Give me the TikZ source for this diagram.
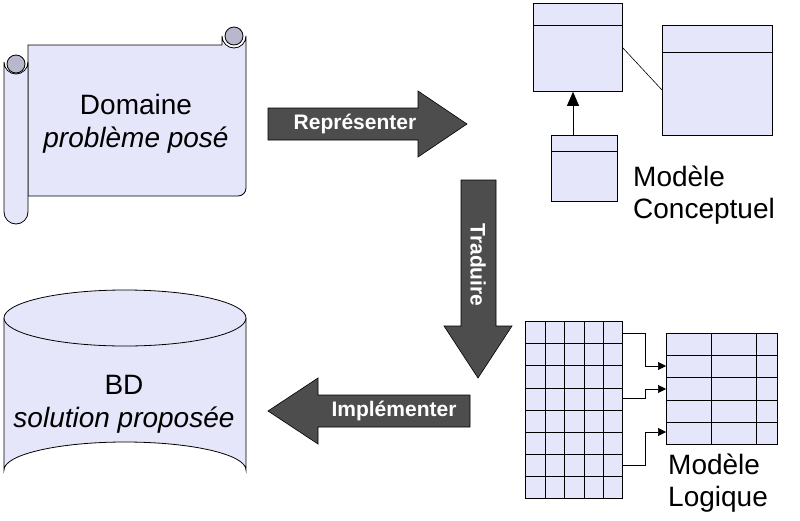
\documentclass[tikz,border=0pt]{standalone}
\usepackage{fontspec}
\setmainfont{Liberation Sans}
\usetikzlibrary{arrows.meta,positioning}
\definecolor{lav}{HTML}{E6E6FA}
\definecolor{rollgrey}{HTML}{B8B8CC}
\definecolor{arrowgrey}{HTML}{4D4D4D}
\tikzset{
  box/.style={draw,fill=lav,line width=0.8pt},
  blockarrow/.style={fill=arrowgrey,draw=black,line width=0.6pt},
  arrowtext/.style={text=white,font=\bfseries\fontsize{21}{24}\selectfont},
  bigtext/.style={font=\fontsize{28}{33}\selectfont,align=center},
  modeltext/.style={font=\fontsize{28}{32}\selectfont,align=left,anchor=north west,inner sep=0pt},
}
\begin{document}
\begin{tikzpicture}[x=1pt,y=-1pt]
\useasboundingbox (0,0) rectangle (800,520);

% scroll
\draw[box] (222,45) -- (222,36) arc[start angle=180,end angle=0,radius=12] -- (246,188)
  arc[start angle=0,end angle=90,radius=8] -- (28,196) -- (28,45) -- cycle;
\draw[box,fill=rollgrey] (234,36) circle (9);
\draw[box] (4,62) arc[start angle=180,end angle=0,radius=12] -- (28,212)
  arc[start angle=0,end angle=180,radius=12] -- cycle;
\draw[box,fill=rollgrey] (16,64) circle (9);
\node[bigtext] (domaine) at (136,124) {Domaine\\\textit{problème posé}};

% database
\draw[box] (4,318) -- (4,470) arc[x radius=121,y radius=28,start angle=180,end angle=360]
  -- (246,318);
\draw[box] (125,318) ellipse[x radius=121,y radius=28];
\node[bigtext] (bd) at (124,404) {BD\\\textit{solution proposée}};

% block arrows
\draw[blockarrow] (268,108) -- (418,108) -- (418,91) -- (467,124) -- (418,157) -- (418,140) -- (268,140) -- cycle;
\node[arrowtext] (repr) at (355,124) {Représenter};
\draw[blockarrow] (461,180) -- (496,180) -- (496,326) -- (512,326) -- (478,378) -- (444,326) -- (461,326) -- cycle;
\node[arrowtext,rotate=-90] (trad) at (478,265) {Traduire};
\draw[blockarrow] (470,395) -- (318,395) -- (318,378) -- (268,411) -- (318,444) -- (318,427) -- (470,427) -- cycle;
\node[arrowtext] (impl) at (394,411) {Implémenter};

% conceptual model
\node[box,minimum width=89,minimum height=88,anchor=north west,inner sep=0pt] (ca) at (533,3) {};
\draw (533,25) -- (622,25);
\node[box,minimum width=110,minimum height=110,anchor=north west,inner sep=0pt] (cb) at (662,25) {};
\draw (662,52) -- (772,52);
\node[box,minimum width=66,minimum height=66,anchor=north west,inner sep=0pt] (cc) at (551,135) {};
\draw (551,151) -- (617,151);
\coordinate (ca-e) at (622,47);
\coordinate (cb-w) at (662,90);
\draw[line width=0.6pt] (ca-e) -- (cb-w);
\draw[-{Triangle[length=14pt,width=12pt]},line width=0.8pt] (cc.north -| 573,0) -- (ca.south -| 573,0);
\node[modeltext] (mc) at (633,166) {Modèle\\Conceptuel};

% logical model
\node[box,minimum width=97,minimum height=177,anchor=north west,inner sep=0pt] (ta) at (525,321) {};
\foreach \x in {545,564,584,603} \draw (\x,321) -- (\x,498);
\foreach \y in {343,365,388,410,432,454,476} \draw (525,\y) -- (622,\y);
\node[box,minimum width=111,minimum height=111,anchor=north west,inner sep=0pt] (tb) at (666,333) {};
\foreach \x in {711,756} \draw (\x,333) -- (\x,444);
\foreach \y in {355,377,400,422} \draw (666,\y) -- (777,\y);
\coordinate (a1) at (622,333); \coordinate (b1) at (666,366);
\coordinate (a2) at (622,398); \coordinate (b2) at (666,389);
\coordinate (a3) at (622,465); \coordinate (b3) at (666,432);
\foreach \i in {1,2,3}
  \draw[-{Triangle[length=8pt,width=8pt]},line width=0.6pt] (a\i) -- ++(23,0) |- (b\i);
\node[modeltext] (ml) at (668,454) {Modèle\\Logique};
\end{tikzpicture}
\end{document}
